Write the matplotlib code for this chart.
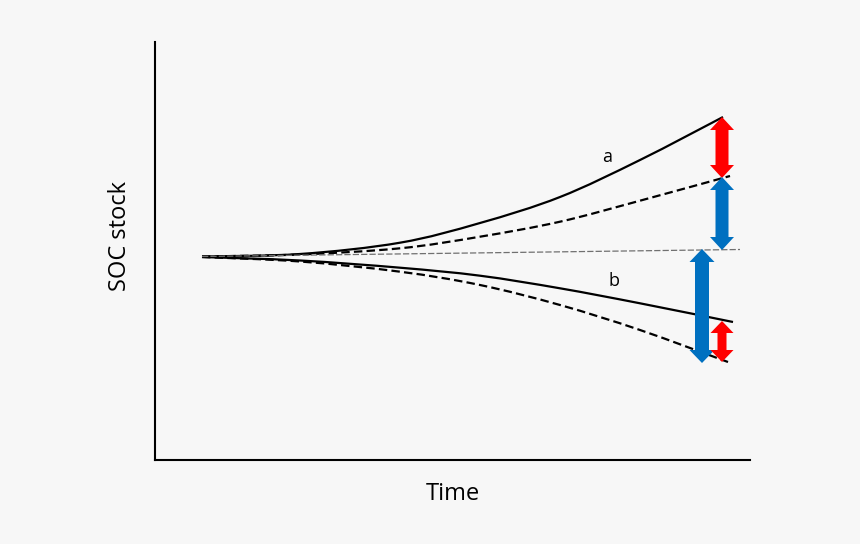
import matplotlib
matplotlib.use("Agg")
import matplotlib.pyplot as plt
from matplotlib.patches import Polygon, PathPatch
from matplotlib.path import Path
import numpy as np

# data in image-like units (x: time, y: SOC stock, measured downward from top)
x_a = [202, 300, 400, 480, 560, 640, 723]
y_a_solid = [256.5, 254, 242.7, 223, 197, 160, 117]
x_ad = [202, 300, 400, 480, 560, 640, 730]
y_a_dash = [256.5, 254.5, 248.3, 236.7, 221.7, 200.7, 176]
x_base = [202, 740]
y_base = [256.5, 249.5]
x_b = [202, 300, 400, 480, 560, 640, 733]
y_b_solid = [257, 260.5, 267.7, 275.7, 288.3, 303.3, 322]
x_bd = [202, 300, 400, 480, 560, 640, 728]
y_b_dash = [257, 261.5, 271.7, 285, 305, 330, 362]

# arrows: x, y_start, y_end, color, shaft width, head width, head length
arrow_x = [722, 722, 702, 722]
arrow_y0 = [117, 177, 249, 321]
arrow_y1 = [178, 250, 363, 362]
arrow_col = ['#ff0000', '#0070c0', '#0070c0', '#ff0000']
arrow_w = [13, 13, 14, 9]
arrow_hw = [24, 24, 25, 23]
arrow_hl = [13, 13, 13, 12]

labels = ['a', 'b']
label_x = [607, 614]
label_y = [157, 281]


def tx(v):
    return np.asarray(v, dtype=float) - 155


def ty(v):
    return 460 - np.asarray(v, dtype=float)


def smooth_path(xs, ys):
    """Catmull-Rom curve through the points, as cubic Bezier path."""
    p = np.column_stack([tx(xs), ty(ys)])
    n = len(p)
    verts = [tuple(p[0])]
    codes = [Path.MOVETO]
    for i in range(n - 1):
        p0 = p[i - 1] if i > 0 else p[i]
        p1, p2 = p[i], p[i + 1]
        p3 = p[i + 2] if i + 2 < n else p[i + 1]
        c1 = p1 + (p2 - p0) / 6
        c2 = p2 - (p3 - p1) / 6
        verts += [tuple(c1), tuple(c2), tuple(p2)]
        codes += [Path.CURVE4] * 3
    return Path(verts, codes)


def double_arrow(xc, ya, yb, w, hw, hl):
    top, bot = max(ya, yb), min(ya, yb)
    return [(xc, top), (xc + hw / 2, top - hl), (xc + w / 2, top - hl),
            (xc + w / 2, bot + hl), (xc + hw / 2, bot + hl), (xc, bot),
            (xc - hw / 2, bot + hl), (xc - w / 2, bot + hl),
            (xc - w / 2, top - hl), (xc - hw / 2, top - hl)]


bg = '#f7f7f7'
fig = plt.figure(figsize=(8.6, 5.44), dpi=100, facecolor=bg)
ax = fig.add_axes([155/860, 84/544, 595/860, 418/544])
ax.set_facecolor(bg)
ax.set_xlim(0, 595)
ax.set_ylim(0, 418)

ax.plot(tx(x_base), ty(y_base), color='#707070', lw=0.9, ls=(0, (5, 1.7)))
for xs, ys, ls in [(x_a, y_a_solid, '-'), (x_ad, y_a_dash, (0, (3.8, 1.9))),
                   (x_b, y_b_solid, '-'), (x_bd, y_b_dash, (0, (3.8, 1.9)))]:
    ax.add_patch(PathPatch(smooth_path(xs, ys), facecolor='none', edgecolor='black',
                           lw=1.6, ls=ls, capstyle='butt'))

for xv, y0, y1, c, w, hw, hl in zip(arrow_x, arrow_y0, arrow_y1, arrow_col,
                                     arrow_w, arrow_hw, arrow_hl):
    verts = double_arrow(float(tx(xv)), float(ty(y0)), float(ty(y1)), w, hw, hl)
    ax.add_patch(Polygon(verts, closed=True, facecolor=c, edgecolor='none', zorder=5))

for t, lx, ly in zip(labels, label_x, label_y):
    ax.text(float(tx(lx)), float(ty(ly)), t, fontsize=13, ha='center', va='center',
            family='Open Sans')

for s in ['top', 'right']:
    ax.spines[s].set_visible(False)
for s in ['left', 'bottom']:
    ax.spines[s].set_linewidth(1.5)
ax.set_xticks([])
ax.set_yticks([])

fig.text(453/860, 1 - 494/544, 'Time', fontsize=17, ha='center', va='center',
         family='Open Sans')
fig.text(120/860, 1 - 236/544, 'SOC stock', fontsize=17, ha='center', va='center',
         rotation=90, family='Open Sans')

fig.savefig('out.png', dpi=100, facecolor=bg)
